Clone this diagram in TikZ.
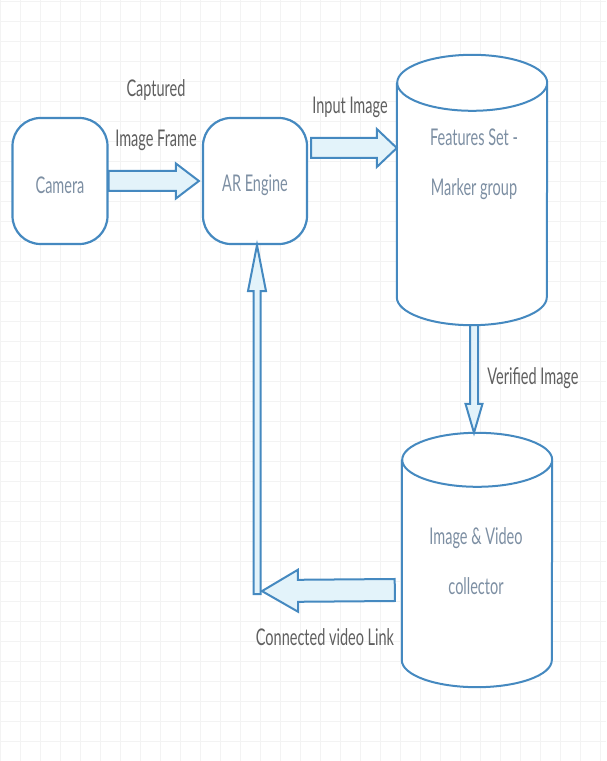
\documentclass[tikz,border=0pt]{standalone}
\usepackage{fontspec}
\setmainfont{Lato}[FakeStretch=0.63]
\usetikzlibrary{calc}
\definecolor{lineblue}{HTML}{4589C0}
\definecolor{arrfill}{HTML}{E3F3FA}
\definecolor{nodetext}{HTML}{7D8FA3}
\definecolor{labtext}{HTML}{5F5F5F}
\definecolor{gridc}{HTML}{F3F3F3}
\tikzset{
  txt/.style={font=\fontsize{23}{50}\selectfont, align=center, inner sep=0pt},
  nodetxt/.style={txt, text=nodetext},
  labtxt/.style={txt, text=labtext},
  termbox/.style={draw=lineblue, line width=2.2pt, rounded corners=28pt, fill=white, inner sep=0pt},
  cylbox/.style={draw=none, inner sep=0pt},
  cylline/.style={draw=lineblue, line width=2pt, fill=white},
  flexstyle/.style={draw=lineblue, line width=2pt, fill=arrfill, line join=miter},
}
% #1 start, #2 end, #3 half shaft, #4 half head, #5 head length
\newcommand\flexarr[5]{%
  \coordinate (fab) at ($(#2)!#5!(#1)$);
  \filldraw[flexstyle] ($(#1)!#3!90:(#2)$) -- ($(fab)!#3!90:(#2)$) -- ($(fab)!#4!90:(#2)$)
    -- (#2) -- ($(fab)!#4!-90:(#2)$) -- ($(fab)!#3!-90:(#2)$) -- ($(#1)!#3!-90:(#2)$) -- cycle;
}
\begin{document}
\begin{tikzpicture}[x=1pt,y=1pt]
\useasboundingbox (0,0) rectangle (606,761);
\fill[white] (0,0) rectangle (606,761);
\draw[gridc, line width=0.6pt, step=20] (0,0) grid (606,761);

% nodes
\node[termbox, minimum width=95pt, minimum height=126pt] (cam) at (60,580) {};
\node[termbox, minimum width=104pt, minimum height=126pt] (ar) at (255,580) {};
\node[cylbox, minimum width=150pt, minimum height=270pt] (feat) at (472,571) {};
\node[cylbox, minimum width=150pt, minimum height=254pt] (vid) at (477,201) {};

% cylinders
\draw[cylline] ($(feat.north west)+(0,-28)$) -- ($(feat.south west)+(0,28)$)
  arc[start angle=180,end angle=360,x radius=75pt,y radius=28pt]
  -- ($(feat.north east)+(0,-28)$)
  arc[start angle=0,end angle=360,x radius=75pt,y radius=28pt];
\draw[cylline] ($(vid.north west)+(0,-27)$) -- ($(vid.south west)+(0,27)$)
  arc[start angle=180,end angle=360,x radius=75pt,y radius=27pt]
  -- ($(vid.north east)+(0,-27)$)
  arc[start angle=0,end angle=360,x radius=75pt,y radius=27pt];

% texts in nodes
\node[nodetxt] (camt) at (60,576) {Camera};
\node[nodetxt] (art) at (255,576) {AR Engine};
\node[nodetxt] (featt) at (474,597) {Features Set -\\Marker group};
\node[nodetxt] (vidt) at (476,200) {Image \& Video\\collector};

% connectors
\coordinate (a1s) at (cam.east);
\coordinate (a1e) at ($(ar.west)+(-3,0)$);
\flexarr{a1s}{a1e}{10pt}{17.5pt}{23pt}

\coordinate (a2s) at ($(ar.east)+(3,33)$);
\coordinate (a2e) at (a2s -| feat.west);
\flexarr{a2s}{a2e}{10pt}{19pt}{20pt}

\coordinate (a3s) at ($(feat.south)+(2,0)$);
\coordinate (a3e) at (a3s |- vid.north);
\flexarr{a3s}{a3e}{4pt}{8.5pt}{29pt}

\coordinate (elbow) at ($(ar.south)+(2,-346)$);
\coordinate (a5s) at ($(elbow)+(0,-3)$);
\coordinate (a5e) at (elbow |- ar.south);
\flexarr{a5s}{a5e}{3.5pt}{9pt}{46pt}

\coordinate (a4s) at ($(vid.west)+(-7,-30)$);
\coordinate (a4e) at ($(elbow)+(5,0)$);
\flexarr{a4s}{a4e}{11pt}{21pt}{36pt}

% labels
\node[labtxt] (l1) at (156,646) {Captured\\Image Frame};
\node[labtxt] (l2) at (350,654) {Input Image};
\node[labtxt] (l3) at (533,383) {Verified Image};
\node[labtxt] (l4) at (325,124) {Connected video Link};
\end{tikzpicture}
\end{document}
